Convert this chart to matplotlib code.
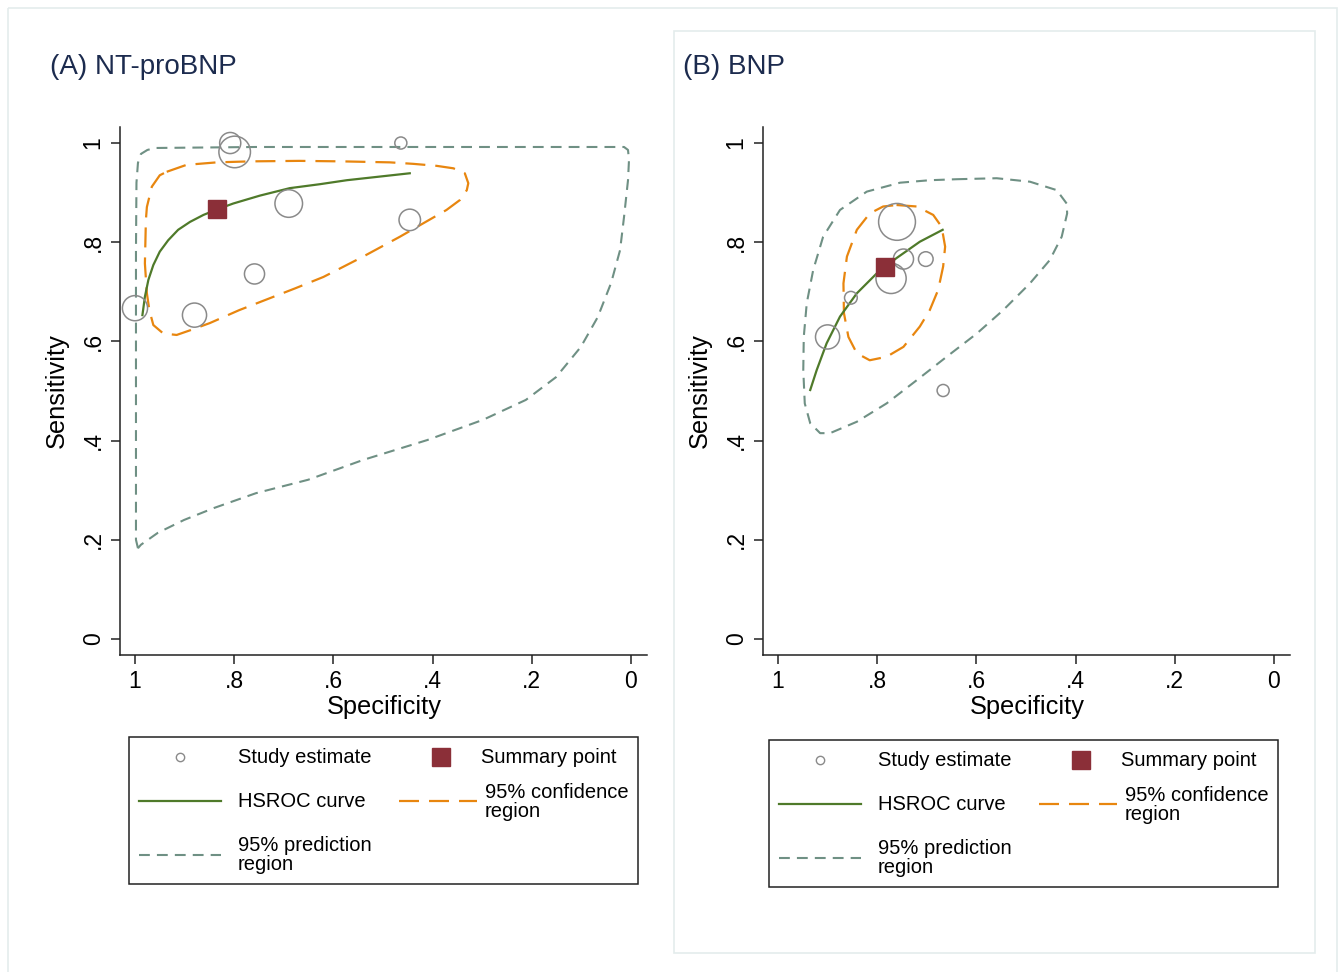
import matplotlib
matplotlib.use("Agg")
from matplotlib import pyplot as plt
from matplotlib.patches import Rectangle

plt.rcParams['font.family'] = ['Liberation Sans', 'DejaVu Sans']

W, H = 1339, 972

# ---- data: (specificity, sensitivity) ----
# panel A: NT-proBNP
a_spec = [1.000, 0.808, 0.799, 0.464, 0.690, 0.446, 0.759, 0.880]
a_sens = [0.667, 1.000, 0.982, 1.000, 0.878, 0.845, 0.736, 0.653]
a_weight = [156, 110, 246, 36, 188, 114, 100, 144]
a_sum = (0.835, 0.867)

a_curve_spec = [0.985, 0.980, 0.973, 0.963, 0.950, 0.933, 0.913, 0.889, 0.862, 0.835,
                0.802, 0.748, 0.688, 0.627, 0.573, 0.446]
a_curve_sens = [0.653, 0.690, 0.724, 0.754, 0.781, 0.804, 0.825, 0.841, 0.855, 0.866,
                0.878, 0.894, 0.909, 0.917, 0.925, 0.939]

a_conf_spec = [0.936, 0.896, 0.835, 0.768, 0.669, 0.583, 0.486, 0.439, 0.392, 0.358, 0.335,
               0.328, 0.331, 0.345, 0.372, 0.419, 0.466, 0.540, 0.620, 0.677, 0.790, 0.849,
               0.890, 0.916, 0.943, 0.963, 0.971, 0.976, 0.980, 0.978, 0.976, 0.966, 0.950, 0.936]
a_conf_sens = [0.942, 0.956, 0.961, 0.963, 0.964, 0.963, 0.961, 0.958, 0.954, 0.949, 0.939,
               0.919, 0.905, 0.885, 0.865, 0.838, 0.811, 0.771, 0.730, 0.707, 0.663, 0.637,
               0.622, 0.613, 0.616, 0.633, 0.663, 0.697, 0.757, 0.845, 0.871, 0.912, 0.935, 0.942]

a_pred_spec = [0.994, 0.998, 0.998, 0.998, 0.997, 0.994, 0.988, 0.975, 0.960, 0.756, 0.462,
               0.014, 0.006, 0.004, 0.006, 0.014, 0.022, 0.040, 0.067, 0.101, 0.151, 0.212,
               0.298, 0.411, 0.540, 0.651, 0.756, 0.841, 0.901, 0.954, 0.988, 0.994]
a_pred_sens = [0.183, 0.200, 0.482, 0.784, 0.920, 0.960, 0.978, 0.986, 0.990, 0.992, 0.992,
               0.992, 0.986, 0.966, 0.925, 0.851, 0.784, 0.718, 0.649, 0.589, 0.528, 0.482,
               0.442, 0.401, 0.361, 0.321, 0.294, 0.264, 0.240, 0.214, 0.190, 0.183]

# panel B: BNP
b_spec = [0.760, 0.747, 0.702, 0.772, 0.853, 0.900, 0.667]
b_sens = [0.841, 0.766, 0.766, 0.727, 0.688, 0.609, 0.501]
b_weight = [335, 100, 53, 225, 40, 144, 36]
b_sum = (0.784, 0.750)

b_curve_spec = [0.935, 0.922, 0.902, 0.875, 0.841, 0.801, 0.761, 0.714, 0.668]
b_curve_sens = [0.502, 0.542, 0.596, 0.650, 0.697, 0.737, 0.768, 0.801, 0.825]

b_conf_spec = [0.761, 0.720, 0.687, 0.670, 0.663, 0.667, 0.677, 0.694, 0.714, 0.747, 0.781,
               0.815, 0.841, 0.858, 0.867, 0.868, 0.861, 0.841, 0.815, 0.788, 0.761]
b_conf_sens = [0.875, 0.872, 0.855, 0.831, 0.791, 0.751, 0.704, 0.663, 0.630, 0.589, 0.569,
               0.562, 0.576, 0.609, 0.657, 0.717, 0.771, 0.825, 0.858, 0.872, 0.875]

b_pred_spec = [0.640, 0.559, 0.492, 0.438, 0.418, 0.417, 0.428, 0.452, 0.492, 0.546, 0.599,
               0.660, 0.720, 0.781, 0.841, 0.895, 0.915, 0.935, 0.946, 0.949, 0.948, 0.942,
               0.929, 0.909, 0.875, 0.821, 0.754, 0.694, 0.640]
b_pred_sens = [0.927, 0.929, 0.922, 0.905, 0.878, 0.858, 0.811, 0.764, 0.717, 0.663, 0.616,
               0.569, 0.522, 0.475, 0.438, 0.415, 0.415, 0.435, 0.475, 0.542, 0.609, 0.677,
               0.744, 0.811, 0.865, 0.902, 0.920, 0.925, 0.927]

ticks = [0, 0.2, 0.4, 0.6, 0.8, 1]
tick_labels = ["0", ".2", ".4", ".6", ".8", "1"]

# colours
GREEN = "#4f7a2a"
ORANGE = "#e8860f"
PRED = "#6f9084"
CIRC = "#8a8a8a"
SUMM = "#8b2f38"
NAVY = "#1c2b4e"

fig = plt.figure(figsize=(W / 100, H / 100), dpi=100)

# overlay axes in pixel coords for frames and legends
ov = fig.add_axes([0, 0, 1, 1], zorder=-1)
ov.set_xlim(0, W)
ov.set_ylim(H, 0)
ov.axis("off")
ov.add_patch(Rectangle((8, 8), 1329, 970, fill=False, ec="#e4ecec", lw=1.2))
ov.add_patch(Rectangle((674, 31), 641, 922, fill=False, ec="#e4ecec", lw=1.2))


def px_axes(l, t, r, b):
    return fig.add_axes([l / W, 1 - b / H, (r - l) / W, (b - t) / H])


def panel(ax, spec, sens, weight, summ, cs, cn, fs, fn, ps, pn):
    ax.set_facecolor("none")
    ax.plot(ps, pn, color=PRED, lw=1.5, dashes=(5.2, 3.4), zorder=2)
    ax.plot(fs, fn, color=ORANGE, lw=1.6, dashes=(9, 4.5), zorder=3)
    ax.plot(cs, cn, color=GREEN, lw=1.6, zorder=4)
    ax.scatter(spec, sens, s=[w * 2.1 for w in weight], facecolors="none",
               edgecolors=CIRC, linewidths=1.1, zorder=5)
    ax.plot([summ[0]], [summ[1]], marker="s", ms=13, color=SUMM, mec=SUMM, zorder=6)
    ax.set_xlim(1.0302, -0.0323)
    ax.set_ylim(-0.0323, 1.0323)
    for s in ["top", "right"]:
        ax.spines[s].set_visible(False)
    for s in ["left", "bottom"]:
        ax.spines[s].set_linewidth(1.1)
        ax.spines[s].set_color("#222222")
    ax.set_xticks(ticks)
    ax.set_xticklabels(tick_labels, fontsize=16.5)
    ax.set_yticks(ticks)
    ax.set_yticklabels(tick_labels, fontsize=16.5, rotation=90, va="center")
    ax.tick_params(direction="out", length=6.5, width=1.1, color="#222222", pad=4.5)


axA = px_axes(120, 127, 647, 655)
panel(axA, a_spec, a_sens, a_weight, a_sum, a_curve_spec, a_curve_sens,
      a_conf_spec, a_conf_sens, a_pred_spec, a_pred_sens)
axB = px_axes(763, 127, 1290, 655)
panel(axB, b_spec, b_sens, b_weight, b_sum, b_curve_spec, b_curve_sens,
      b_conf_spec, b_conf_sens, b_pred_spec, b_pred_sens)


def ftext(x, y, s, **kw):
    fig.text(x / W, 1 - y / H, s, **kw)


ftext(50, 67, "(A) NT-proBNP", fontsize=20, color=NAVY, ha="left", va="center")
ftext(683, 67, "(B) BNP", fontsize=20, color=NAVY, ha="left", va="center")
for dx in (0, 643):
    ftext(384 + dx, 707, "Specificity", fontsize=18.3, ha="center", va="center")
    ftext(57 + dx, 391, "Sensitivity", fontsize=18.3, ha="center", va="center", rotation=90)


def legend(dx, dy):
    ov.add_patch(Rectangle((129 + dx, 737 + dy), 509, 147, fill=False, ec="#222222", lw=1.1))
    ov.plot([180 + dx], [757 + dy], marker="o", ms=6, mfc="none", mec=CIRC, mew=1.0)
    ov.plot([441 + dx], [757 + dy], marker="s", ms=13, color=SUMM)
    ov.plot([139 + dx, 221 + dx], [801 + dy] * 2, color=GREEN, lw=1.6)
    ov.plot([399 + dx, 477 + dx], [801 + dy] * 2, color=ORANGE, lw=1.6, dashes=(9, 4.5))
    ov.plot([139 + dx, 221 + dx], [855 + dy] * 2, color=PRED, lw=1.5, dashes=(5.2, 3.4))
    kw = dict(fontsize=14.5, va="center", ha="left", linespacing=1.0)
    ov.text(238 + dx, 757 + dy, "Study estimate", **kw)
    ov.text(481 + dx, 757 + dy, "Summary point", **kw)
    ov.text(238 + dx, 801 + dy, "HSROC curve", **kw)
    ov.text(485 + dx, 802 + dy, "95% confidence\nregion", **kw)
    ov.text(238 + dx, 855 + dy, "95% prediction\nregion", **kw)


legend(0, 0)
legend(640, 3)

fig.savefig("out.png", dpi=100)
